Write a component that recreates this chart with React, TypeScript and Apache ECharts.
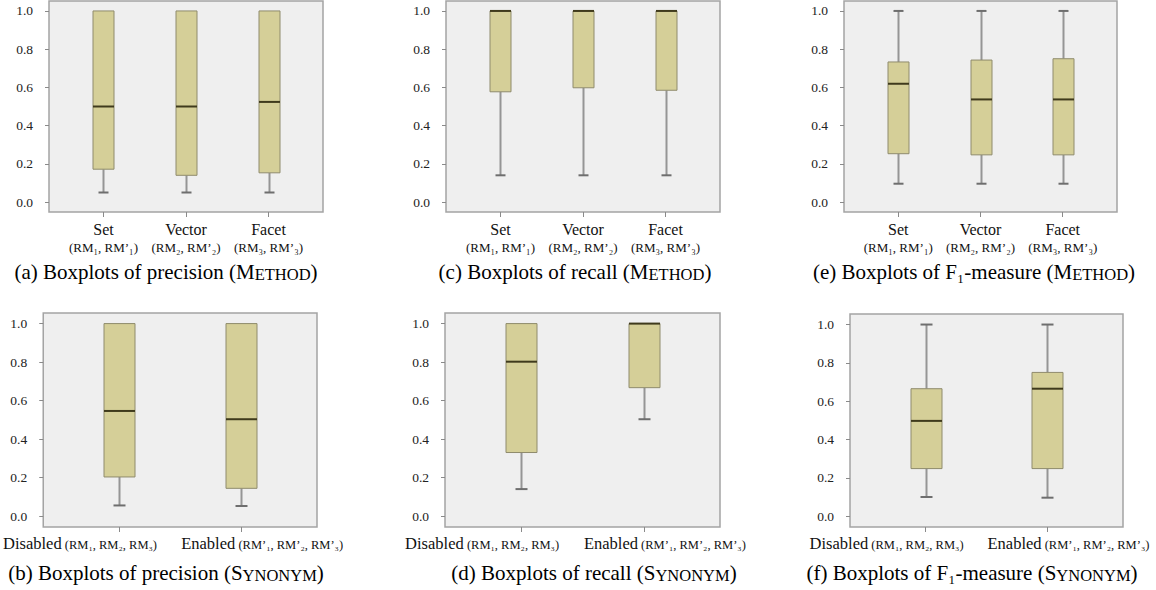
import React, { useEffect, useRef } from "react";
import * as echarts from "echarts";

// ---- data ----
const methodCats = ["Set", "Vector", "Facet"];
const methodSubs = ["(RM₁, RM’₁)", "(RM₂, RM’₂)", "(RM₃, RM’₃)"];
const synCats = ["Disabled", "Enabled"];
const synSubs = ["(RM₁, RM₂, RM₃)", "(RM’₁, RM’₂, RM’₃)"];
const yTicks = [0, 0.2, 0.4, 0.6, 0.8, 1.0];

// [min, Q1, median, Q3, max]
const precisionMethod = [
  [0.05, 0.172, 0.5, 1.0, 1.0],
  [0.05, 0.14, 0.5, 1.0, 1.0],
  [0.05, 0.153, 0.524, 1.0, 1.0],
];
const recallMethod = [
  [0.14, 0.577, 1.0, 1.0, 1.0],
  [0.14, 0.598, 1.0, 1.0, 1.0],
  [0.14, 0.585, 1.0, 1.0, 1.0],
];
const f1Method = [
  [0.096, 0.253, 0.619, 0.733, 1.0],
  [0.096, 0.247, 0.537, 0.743, 1.0],
  [0.096, 0.247, 0.537, 0.75, 1.0],
];
const precisionSyn = [
  [0.055, 0.203, 0.546, 1.0, 1.0],
  [0.052, 0.144, 0.503, 1.0, 1.0],
];
const recallSyn = [
  [0.14, 0.33, 0.802, 1.0, 1.0],
  [0.503, 0.667, 1.0, 1.0, 1.0],
];
const f1Syn = [
  [0.0995, 0.248, 0.497, 0.665, 1.0],
  [0.096, 0.248, 0.665, 0.75, 1.0],
];

const captions = [
  { pre: "(a) Boxplots of precision (", cap: "M", small: "ETHOD" },
  { pre: "(c) Boxplots of recall (", cap: "M", small: "ETHOD" },
  { pre: "(e) Boxplots of F₁-measure (", cap: "M", small: "ETHOD" },
  { pre: "(b) Boxplots of precision (", cap: "S", small: "YNONYM" },
  { pre: "(d) Boxplots of recall (", cap: "S", small: "YNONYM" },
  { pre: "(f) Boxplots of F₁-measure (", cap: "S", small: "YNONYM" },
];

const FONT = "'Liberation Serif', 'Times New Roman', serif";

type Panel = {
  grid: { left: number; top: number; width: number; height: number };
  data: number[][];
  kind: "method" | "syn";
  yMin: number;
  yMax: number;
  capPos: [number, number];
};

const panels: Panel[] = [
  { grid: { left: 49, top: 1, width: 274, height: 211 }, data: precisionMethod, kind: "method", yMin: -0.052, yMax: 1.052, capPos: [166, 272] },
  { grid: { left: 446, top: 1, width: 274, height: 211 }, data: recallMethod, kind: "method", yMin: -0.052, yMax: 1.052, capPos: [575, 272] },
  { grid: { left: 844, top: 1, width: 273, height: 211 }, data: f1Method, kind: "method", yMin: -0.052, yMax: 1.052, capPos: [974, 272] },
  { grid: { left: 43, top: 313, width: 274, height: 214 }, data: precisionSyn, kind: "syn", yMin: -0.057, yMax: 1.055, capPos: [166, 573] },
  { grid: { left: 445, top: 313, width: 275, height: 214 }, data: recallSyn, kind: "syn", yMin: -0.057, yMax: 1.055, capPos: [594, 573] },
  { grid: { left: 850, top: 314, width: 273, height: 213 }, data: f1Syn, kind: "syn", yMin: -0.057, yMax: 1.055, capPos: [972, 573] },
];

function makeRender(boxW: number, capW: number) {
  return (params: any, api: any) => {
    const x = api.value(0);
    const mn = api.value(1);
    const q1 = api.value(2);
    const md = api.value(3);
    const q3 = api.value(4);
    const mx = api.value(5);
    const pMin = api.coord([x, mn]);
    const pQ1 = api.coord([x, q1]);
    const pMd = api.coord([x, md]);
    const pQ3 = api.coord([x, q3]);
    const pMax = api.coord([x, mx]);
    const cx = Math.round(pMin[0]) + 0.5;
    const children: any[] = [];
    const whisker = { stroke: "#959595", lineWidth: 2 };
    const cap = { stroke: "#6e6e6e", lineWidth: 2 };
    if (q1 > mn) {
      children.push({ type: "line", shape: { x1: cx, y1: pQ1[1], x2: cx, y2: pMin[1] }, style: whisker });
      children.push({ type: "line", shape: { x1: cx - capW / 2, y1: pMin[1], x2: cx + capW / 2, y2: pMin[1] }, style: cap });
    }
    if (mx > q3) {
      children.push({ type: "line", shape: { x1: cx, y1: pQ3[1], x2: cx, y2: pMax[1] }, style: whisker });
      children.push({ type: "line", shape: { x1: cx - capW / 2, y1: pMax[1], x2: cx + capW / 2, y2: pMax[1] }, style: cap });
    }
    children.push({
      type: "rect",
      shape: { x: cx - boxW / 2, y: pQ3[1], width: boxW, height: pQ1[1] - pQ3[1] },
      style: { fill: "#d5cf98", stroke: "#8f8b6c", lineWidth: 1 },
    });
    children.push({
      type: "line",
      shape: { x1: cx - boxW / 2, y1: pMd[1], x2: cx + boxW / 2, y2: pMd[1] },
      style: { stroke: "#3f3a1c", lineWidth: 2 },
    });
    return { type: "group", children };
  };
}

const methodRich = {
  a: { fontFamily: FONT, fontSize: 16, lineHeight: 18, color: "#111" },
  b: { fontFamily: FONT, fontSize: 13, lineHeight: 18, color: "#111" },
};
// Disabled label sits left of its tick, Enabled label right of its tick (as in the source figure)
const synRich = {
  a: { fontFamily: FONT, fontSize: 16.5, lineHeight: 16.5, color: "#111", verticalAlign: "bottom" },
  b: { fontFamily: FONT, fontSize: 12.5, lineHeight: 12.5, color: "#111", verticalAlign: "bottom" },
  bL: { fontFamily: FONT, fontSize: 12.5, lineHeight: 12.5, color: "#111", verticalAlign: "bottom", padding: [0, 78, 0, 0] },
  aR: { fontFamily: FONT, fontSize: 16.5, lineHeight: 16.5, color: "#111", verticalAlign: "bottom", padding: [0, 0, 0, 42] },
};

export default function App() {
  const ref = useRef<HTMLDivElement>(null);
  useEffect(() => {
    if (!ref.current) return;
    const chart = echarts.init(ref.current, undefined, { renderer: "svg" });

    const grids: any[] = [];
    const xAxes: any[] = [];
    const yAxes: any[] = [];
    const series: any[] = [];
    const graphics: any[] = [];
    const extraGrids: any[] = [];
    const extraX: any[] = [];
    const extraY: any[] = [];

    const synLabel = (k: number) =>
      k === 0 ? `{a|${synCats[0]}}{bL| ${synSubs[0]}}` : `{aR|${synCats[1]}}{b| ${synSubs[1]}}`;

    panels.forEach((p, i) => {
      const isMethod = p.kind === "method";
      const cats = isMethod ? methodCats : synCats;
      const subs = isMethod ? methodSubs : synSubs;
      const n = cats.length;
      const xMin = isMethod ? -0.66 : -0.62;
      const xMax = isMethod ? 2.66 : 1.62;
      const catVals = cats.map((_, k) => k);

      grids.push({
        ...p.grid,
        show: true,
        backgroundColor: "#efefef",
        borderColor: "#a4a4a4",
        borderWidth: 1.5,
        containLabel: false,
      });

      xAxes.push({
        gridIndex: i,
        type: "value",
        position: "bottom",
        min: xMin,
        max: xMax,
        axisLine: { show: false, onZero: false },
        splitLine: { show: false },
        axisTick: { show: true, customValues: catVals, length: 5, lineStyle: { color: "#8a8a8a" } },
        axisLabel: {
          customValues: isMethod ? catVals : [0],
          hideOverlap: false,
          showMinLabel: true,
          showMaxLabel: true,
          margin: 8,
          formatter: (v: number) => {
            const k = Math.round(v);
            if (k < 0 || k >= n) return "";
            return isMethod ? `{a|${cats[k]}}\n{b|${subs[k]}}` : synLabel(k);
          },
          rich: isMethod ? methodRich : synRich,
        },
      });

      yAxes.push({
        gridIndex: i,
        type: "value",
        position: "left",
        min: p.yMin,
        max: p.yMax,
        axisLine: { show: false, onZero: false },
        splitLine: { show: false },
        axisTick: { show: true, customValues: yTicks, length: 4, lineStyle: { color: "#8a8a8a" } },
        axisLabel: {
          customValues: yTicks,
          hideOverlap: false,
          showMinLabel: true,
          showMaxLabel: true,
          margin: 16,
          fontFamily: FONT,
          fontSize: 13.5,
          color: "#222",
          formatter: (v: number) => v.toFixed(1),
        },
      });

      if (!isMethod) {
        // second overlay axis carrying the "Enabled" label only
        extraGrids.push({ ...p.grid, show: false, containLabel: false });
        extraX.push({
          type: "value",
          position: "bottom",
          min: xMin,
          max: xMax,
          axisLine: { show: false, onZero: false },
          splitLine: { show: false },
          axisTick: { show: false },
          axisLabel: {
            customValues: [1],
            hideOverlap: false,
            margin: 8,
            formatter: (v: number) => synLabel(Math.round(v)),
            rich: synRich,
          },
        });
        extraY.push({
          type: "value",
          min: p.yMin,
          max: p.yMax,
          show: false,
        });
      }

      series.push({
        type: "custom",
        xAxisIndex: i,
        yAxisIndex: i,
        renderItem: isMethod ? makeRender(21, 10) : makeRender(31, 12),
        encode: { x: 0, y: [1, 2, 3, 4, 5] },
        data: p.data.map((d, k) => [k, ...d]),
        clip: false,
      });

      const c = captions[i];
      graphics.push({
        type: "text",
        x: p.capPos[0],
        y: p.capPos[1],
        style: {
          text: `{n|${c.pre}${c.cap}}{s|${c.small}}{n|)}`,
          align: "center",
          verticalAlign: "middle",
          rich: {
            n: { fontFamily: FONT, fontSize: 21, lineHeight: 21, fill: "#000", verticalAlign: "bottom" },
            s: { fontFamily: FONT, fontSize: 16.5, lineHeight: 16.5, fill: "#000", verticalAlign: "bottom" },
          },
        },
      });
    });

    const base = grids.length;
    extraGrids.forEach((g, j) => {
      grids.push(g);
      xAxes.push({ ...extraX[j], gridIndex: base + j });
      yAxes.push({ ...extraY[j], gridIndex: base + j });
    });

    chart.setOption({
      animation: false,
      backgroundColor: "#ffffff",
      grid: grids,
      xAxis: xAxes,
      yAxis: yAxes,
      series,
      graphic: graphics,
    });
    return () => chart.dispose();
  }, []);

  return (
    <div
      ref={ref}
      style={{ position: "absolute", left: 0, top: 0, width: 1156, height: 590 }}
    />
  );
}
